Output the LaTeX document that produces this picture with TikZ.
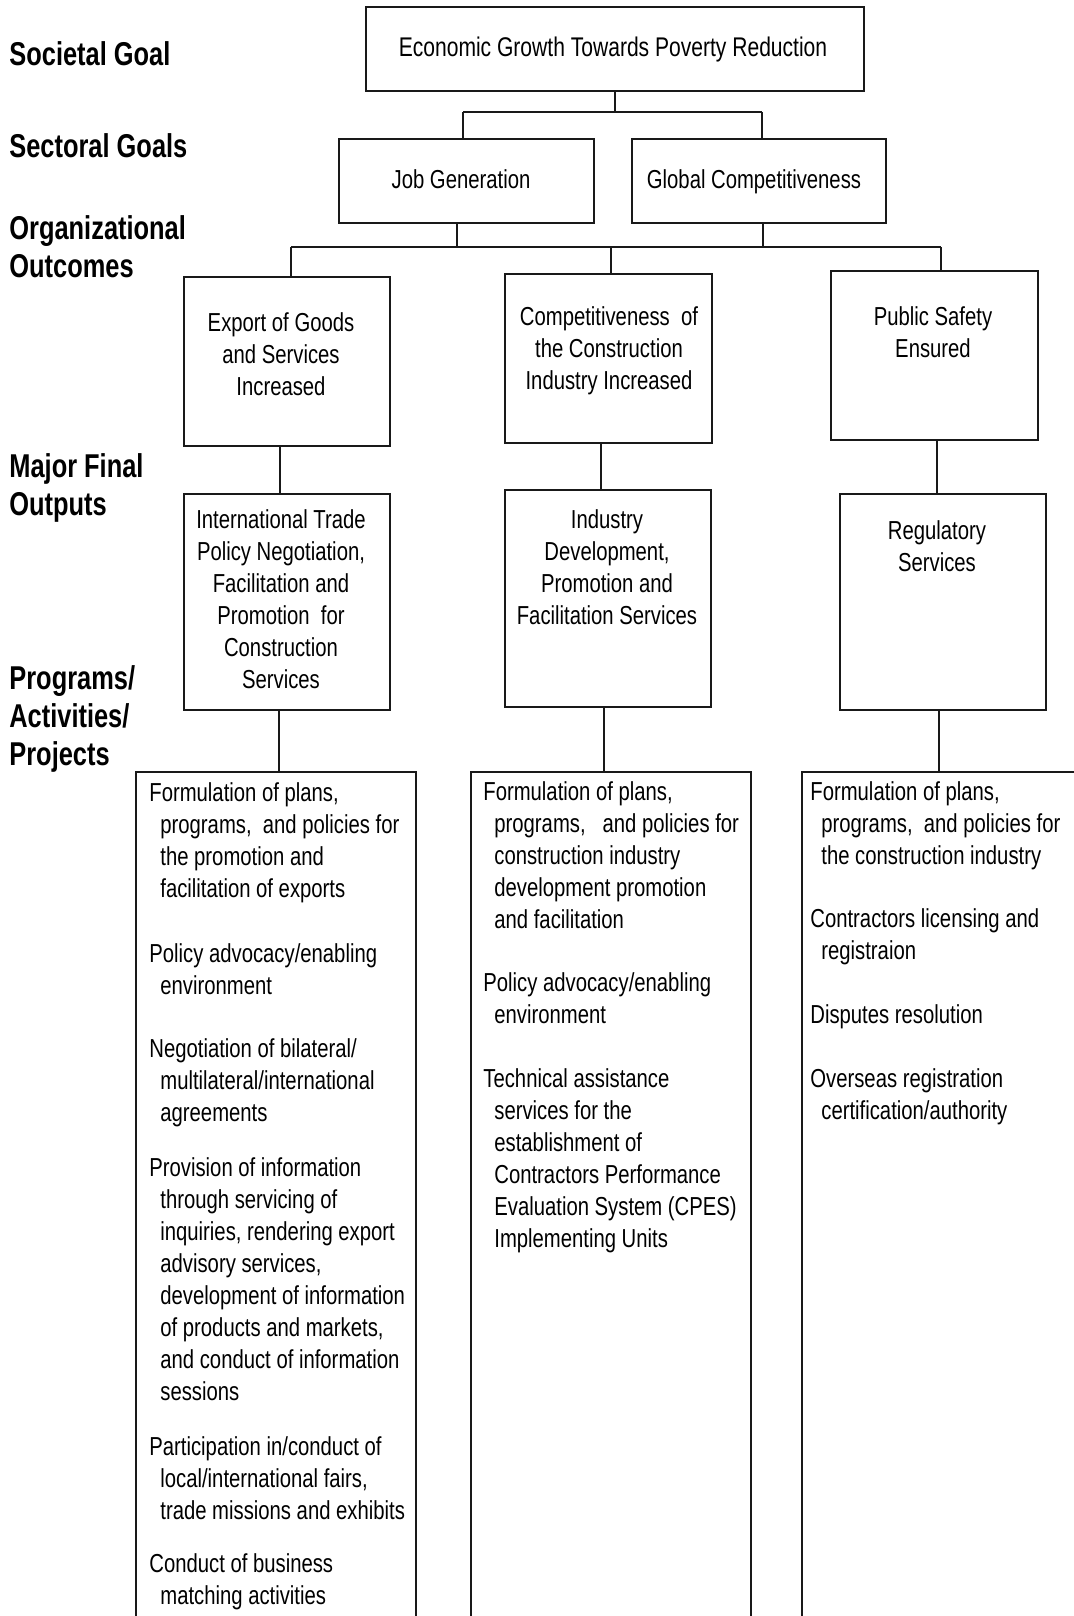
\documentclass[tikz,border=0pt]{standalone}
\usepackage{fontspec}
\setmainfont{Liberation Sans}[FakeStretch=0.78]
\newfontfamily\lblfont{Liberation Sans}[FakeStretch=0.77]
\usetikzlibrary{fit}
\newcommand{\nxt}{\\\hspace*{5.5pt}}

% base anchor of a multi-line node = baseline of its last line
\tikzset{
  box/.style={draw=black!90, line width=1pt, inner sep=0pt},
  conn/.style={draw=black!90, line width=0.8pt},
  txt/.style={align=center, inner sep=0pt, anchor=base, font=\fontsize{13}{16}\selectfont},
  itm/.style={align=left, inner sep=0pt, anchor=base west, font=\fontsize{13}{16}\selectfont},
  lvl/.style={align=left, inner sep=0pt, anchor=base west, font=\lblfont\bfseries\fontsize{16.5}{19}\selectfont},
}

\begin{document}
\begin{tikzpicture}[x=0.5pt, y=-0.5pt]
\useasboundingbox (0,0) rectangle (1074,1616);

% Livelli a sinistra
\node[lvl] (lsoc) at (9,66) {Societal Goal};
\node[lvl] (lsec) at (9,157) {Sectoral Goals};
\node[lvl] (lorg) at (9,277) {Organizational\\Outcomes};
\node[lvl] (lmfo) at (9,515) {Major Final\\Outputs};
\node[lvl] (lpap) at (9,765) {Programs/\\Activities/\\Projects};

% Obiettivo sociale
\node[box, line width=1.3pt, fit={(366,7) (864,91)}] (goal) {};
\node[txt, font=\fontsize{13.5}{16}\selectfont] (goalt) at (613,57) {Economic Growth Towards Poverty Reduction};

% Obiettivi settoriali
\node[box, fit={(339,139) (594,223)}] (job) {};
\node[txt] (jobt) at (461,188) {Job Generation};
\node[box, fit={(632,139) (886,223)}] (glob) {};
\node[txt] (globt) at (754,188) {Global Competitiveness};

% Outcomes
\node[box, fit={(184,277) (390,446)}] (oc1) {};
\node[txt] (oc1t) at (281,395) {Export of Goods\\and Services\\Increased};
\node[box, fit={(505,274) (712,443)}] (oc2) {};
\node[txt] (oc2t) at (609,389) {Competitiveness\ \ of\\the Construction\\Industry Increased};
\node[box, fit={(831,271) (1038,440)}] (oc3) {};
\node[txt] (oc3t) at (933,357) {Public Safety\\Ensured};

% Major final outputs
\node[box, fit={(184,494) (390,710)}] (op1) {};
\node[txt] (op1t) at (281,688) {International Trade\\Policy Negotiation,\\Facilitation and\\Promotion\ \ for\\Construction\\Services};
\node[box, fit={(505,490) (711,707)}] (op2) {};
\node[txt] (op2t) at (607,624) {Industry\\Development,\\Promotion and\\Facilitation Services};
\node[box, fit={(840,494) (1046,710)}] (op3) {};
\node[txt] (op3t) at (937,571) {Regulatory\\Services};

% Programs/activities/projects (boxes run past the page)
\node[box, fit={(136,772) (416,1640)}] (pg1) {};
\node[box, fit={(471,772) (751,1640)}] (pg2) {};
\node[box, fit={(802,772) (1110,1640)}] (pg3) {};

\node[itm] (pg1a) at (149,897) {Formulation of plans,\nxt programs,\ \ and policies for\nxt the promotion and\nxt facilitation of exports};
\node[itm] (pg1b) at (149,994) {Policy advocacy/enabling\nxt environment};
\node[itm] (pg1c) at (149,1121) {Negotiation of bilateral/\nxt multilateral/international\nxt agreements};
\node[itm] (pg1d) at (149,1400) {Provision of information\nxt through servicing of\nxt inquiries, rendering export\nxt advisory services,\nxt development of information\nxt of products and markets,\nxt and conduct of information\nxt sessions};
\node[itm] (pg1e) at (149,1519) {Participation in/conduct of\nxt local/international fairs,\nxt trade missions and exhibits};
\node[itm] (pg1f) at (149,1604) {Conduct of business\nxt matching activities};

\node[itm] (pg2a) at (483,928) {Formulation of plans,\nxt programs,\ \ \ and policies for\nxt construction industry\nxt development promotion\nxt and facilitation};
\node[itm] (pg2b) at (483,1023) {Policy advocacy/enabling\nxt environment};
\node[itm] (pg2c) at (483,1247) {Technical assistance\nxt services for the\nxt establishment of\nxt Contractors Performance\nxt Evaluation System (CPES)\nxt Implementing Units};

\node[itm] (pg3a) at (810,864) {Formulation of plans,\nxt programs,\ \ and policies for\nxt the construction industry};
\node[itm] (pg3b) at (810,959) {Contractors licensing and\nxt registraion};
\node[itm] (pg3c) at (810,1023) {Disputes resolution};
\node[itm] (pg3d) at (810,1119) {Overseas registration\nxt certification/authority};

% Collegamenti: goal -> sectoral goals
\coordinate (busA) at (463,112);
\coordinate (busB) at (762,112);
\draw[conn] (goal.south) -- (goal.south |- busA);
\draw[conn] (busA) -- (busB);
\draw[conn] (busA) -- (busA |- job.north);
\draw[conn] (busB) -- (busB |- glob.north);

% sectoral goals -> outcomes
\coordinate (busC) at (291,247);
\coordinate (busD) at (941,247);
\coordinate (jdn) at (457,247);
\coordinate (gdn) at (763,247);
\coordinate (mid) at (611,247);
\draw[conn] (busC) -- (busD);
\draw[conn] (jdn) -- (jdn |- job.south);
\draw[conn] (gdn) -- (gdn |- glob.south);
\draw[conn] (busC) -- (busC |- oc1.north);
\draw[conn] (mid) -- (mid |- oc2.north);
\draw[conn] (busD) -- (busD |- oc3.north);

% outcomes -> outputs -> programs
\coordinate (c1) at (280,0);
\coordinate (c2) at (601,0);
\coordinate (c3) at (937,0);
\draw[conn] (c1 |- oc1.south) -- (c1 |- op1.north);
\draw[conn] (c2 |- oc2.south) -- (c2 |- op2.north);
\draw[conn] (c3 |- oc3.south) -- (c3 |- op3.north);
\coordinate (d1) at (279,0);
\coordinate (d2) at (604,0);
\coordinate (d3) at (939,0);
\draw[conn] (d1 |- op1.south) -- (d1 |- pg1.north);
\draw[conn] (d2 |- op2.south) -- (d2 |- pg2.north);
\draw[conn] (d3 |- op3.south) -- (d3 |- pg3.north);

\end{tikzpicture}
\end{document}
